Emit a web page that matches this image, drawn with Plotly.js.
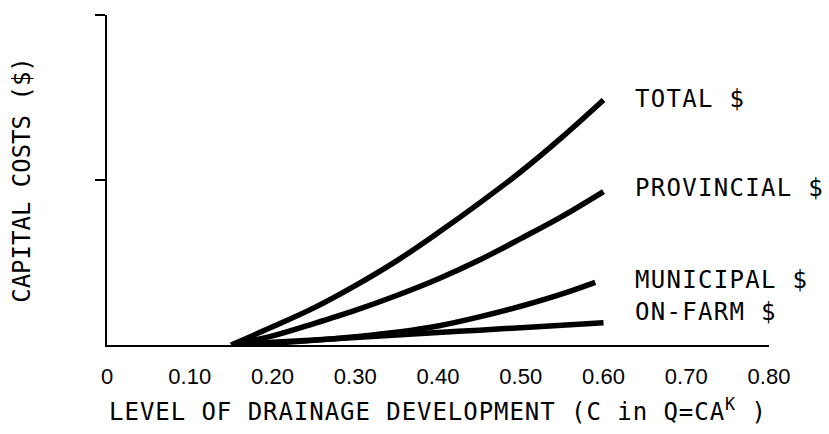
<!DOCTYPE html>
<html>
<head>
<meta charset="utf-8">
<script src="https://cdn.plot.ly/plotly-3.0.1.min.js"></script>
<style>
  html, body { margin: 0; padding: 0; background: #fff; }
  #chart { width: 829px; height: 434px; }
  .xtitle { letter-spacing: 0.95px; }
  .ytitle { letter-spacing: 0px; }
  .annotation-text { letter-spacing: 1.3px; }
</style>
</head>
<body>
<div id="chart"></div>
<script>
// ---- data ----
const levelC = [0.15, 0.20, 0.25, 0.30, 0.35, 0.40, 0.45, 0.50, 0.55, 0.60];
const levelCMunicipal = [0.15, 0.20, 0.25, 0.30, 0.35, 0.40, 0.45, 0.50, 0.55, 0.59];
const totalCost      = [0, 0.11, 0.225, 0.36, 0.51, 0.68, 0.86, 1.05, 1.26, 1.485];
const provincialCost = [0, 0.055, 0.13, 0.21, 0.30, 0.40, 0.515, 0.645, 0.78, 0.93];
const municipalCost  = [0, 0.012, 0.028, 0.05, 0.077, 0.115, 0.17, 0.235, 0.31, 0.38];
const onFarmCost     = [0, 0.016, 0.031, 0.046, 0.061, 0.076, 0.09, 0.105, 0.12, 0.135];
const seriesNames = ['TOTAL $', 'PROVINCIAL $', 'MUNICIPAL $', 'ON-FARM $'];
const xTickVals = [0, 0.1, 0.2, 0.3, 0.4, 0.5, 0.6, 0.7, 0.8];
const xTickText = ['0', '0.10', '0.20', '0.30', '0.40', '0.50', '0.60', '0.70', '0.80'];
const xMarkVals = [0.1, 0.2, 0.3, 0.4, 0.5, 0.6, 0.7, 0.8];
const yTickVals = [1, 2];

const MONO = 'DejaVu Sans Mono, Liberation Mono, monospace';
const SANS = 'Liberation Sans, Arial, sans-serif';
const lineStyle = { color: '#000', width: 5.5, shape: 'spline', smoothing: 1 };

const seriesX = [levelC, levelC, levelCMunicipal, levelC];
const seriesY = [totalCost, provincialCost, municipalCost, onFarmCost];
const traces = seriesNames.map((n, i) => ({
  type: 'scatter', mode: 'lines', name: n,
  x: seriesX[i], y: seriesY[i], line: lineStyle,
  hoverinfo: 'skip', cliponaxis: false
}));

// label positions (layout, not data)
const labelY = [1.49, 0.95, 0.395, 0.2];
const annotations = seriesNames.map((n, i) => ({
  x: 0.636, y: labelY[i], xref: 'x', yref: 'y',
  text: n, showarrow: false, xanchor: 'left', yanchor: 'middle',
  font: { family: MONO, size: 24, color: '#000' }
}));

const baseAxis = {
  showgrid: false, zeroline: false, fixedrange: true,
  tickcolor: '#000', tickwidth: 1.5
};

const layout = {
  width: 829, height: 434,
  margin: { l: 107, r: 60, t: 15, b: 89 },
  paper_bgcolor: '#fff', plot_bgcolor: '#fff',
  showlegend: false,
  xaxis: Object.assign({}, baseAxis, {
    range: [0, 0.8], showline: true, linecolor: '#000', linewidth: 2,
    ticks: '', tickmode: 'array', tickvals: xTickVals, ticktext: xTickText,
    tickfont: { family: SANS, size: 22, color: '#000' },
    ticklabelstandoff: 11,
    title: { text: 'LEVEL OF DRAINAGE DEVELOPMENT (C in Q=CA<sup>K</sup> )',
             font: { family: MONO, size: 24, color: '#000' }, standoff: 15 }
  }),
  xaxis2: Object.assign({}, baseAxis, {
    overlaying: 'x', anchor: 'y', side: 'bottom', range: [0, 0.8],
    showline: false, ticks: 'inside', ticklen: 8, tickmode: 'array',
    tickvals: xMarkVals, showticklabels: false
  }),
  xaxis3: Object.assign({}, baseAxis, {
    overlaying: 'x', anchor: 'y', side: 'bottom', range: [0, 0.8],
    showline: false, ticks: 'outside', ticklen: 7, tickmode: 'array',
    tickvals: xMarkVals, showticklabels: false
  }),
  yaxis: Object.assign({}, baseAxis, {
    range: [0, 2], showline: true, linecolor: '#000', linewidth: 2,
    ticks: 'outside', ticklen: 10, tickmode: 'array', tickvals: yTickVals,
    showticklabels: false,
    title: { text: 'CAPITAL COSTS ($)',
             font: { family: MONO, size: 24, color: '#000' }, standoff: 58 }
  }),
  yaxis2: Object.assign({}, baseAxis, {
    overlaying: 'y', anchor: 'x', side: 'left', range: [0, 2],
    showline: false, ticks: 'inside', ticklen: 8, tickmode: 'array',
    tickvals: yTickVals, showticklabels: false
  }),
  annotations: annotations
};

Plotly.newPlot('chart', traces, layout, { staticPlot: true, displayModeBar: false });
</script>
</body>
</html>
